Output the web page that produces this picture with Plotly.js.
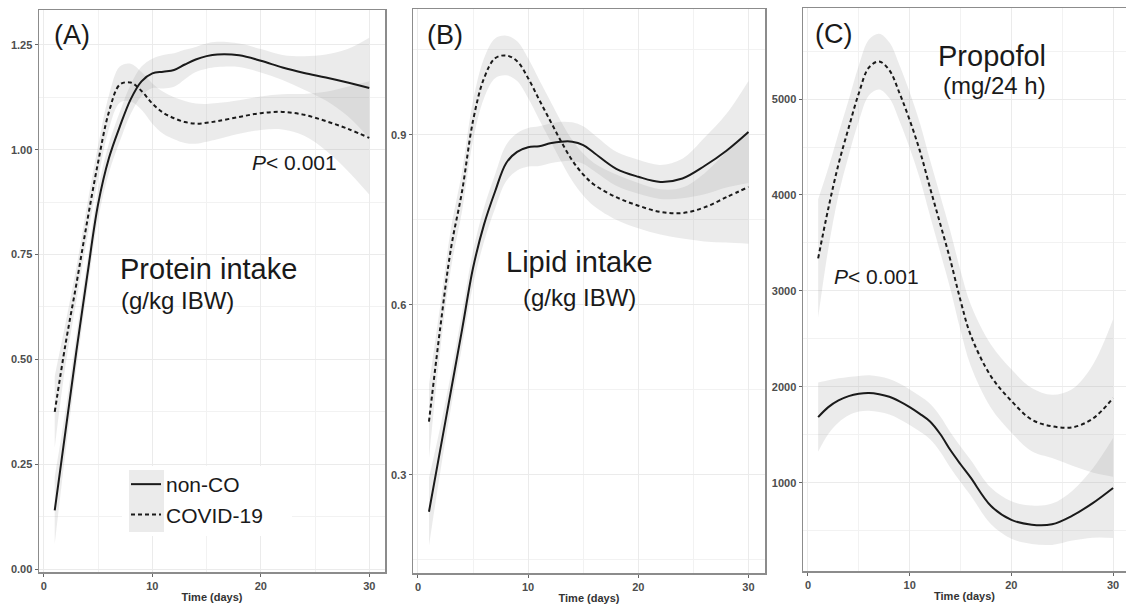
<!DOCTYPE html>
<html>
<head>
<meta charset="utf-8">
<script src="https://cdn.plot.ly/plotly-3.0.1.min.js"></script>
<style>html,body{margin:0;padding:0;background:#fff;}#chart{width:1126px;height:612px;}</style>
</head>
<body>
<div id="chart"></div>
<script>
// ---- data ----
const days = [1,2,3,4,5,6,7,8,9,10,11,12,13,14,15,16,18,20,22,24,26,28,30];

const proteinNonCO   = [0.14,0.33,0.52,0.70,0.87,0.98,1.055,1.12,1.163,1.182,1.186,1.19,1.203,1.215,1.223,1.227,1.225,1.212,1.196,1.183,1.172,1.16,1.147];
const proteinNonCOse = [0.08,0.05,0.04,0.035,0.035,0.035,0.035,0.035,0.035,0.035,0.04,0.04,0.035,0.03,0.03,0.03,0.028,0.028,0.03,0.04,0.055,0.08,0.12];
const proteinCovid   = [0.375,0.537,0.68,0.83,0.97,1.09,1.155,1.16,1.14,1.11,1.088,1.075,1.066,1.062,1.064,1.068,1.078,1.087,1.09,1.083,1.068,1.05,1.028];
const proteinCovidSe = [0.085,0.05,0.04,0.04,0.04,0.04,0.043,0.045,0.045,0.048,0.05,0.05,0.05,0.048,0.045,0.043,0.04,0.04,0.042,0.05,0.07,0.1,0.135];

const lipidNonCO   = [0.235,0.342,0.449,0.556,0.665,0.742,0.80,0.85,0.87,0.878,0.88,0.885,0.888,0.888,0.882,0.868,0.84,0.826,0.817,0.823,0.845,0.872,0.905];
const lipidNonCOse = [0.06,0.04,0.03,0.03,0.03,0.03,0.03,0.032,0.033,0.034,0.035,0.035,0.035,0.034,0.033,0.032,0.03,0.03,0.03,0.035,0.05,0.065,0.09];
const lipidCovid   = [0.394,0.556,0.70,0.80,0.925,1.0,1.035,1.04,1.03,1.0,0.962,0.925,0.888,0.855,0.83,0.812,0.79,0.775,0.764,0.762,0.772,0.79,0.808];
const lipidCovidSe = [0.065,0.04,0.035,0.035,0.035,0.035,0.035,0.035,0.035,0.035,0.035,0.035,0.035,0.036,0.037,0.038,0.04,0.04,0.04,0.045,0.06,0.08,0.10];

const propofolNonCO   = [1686,1790,1860,1905,1930,1938,1925,1898,1850,1790,1720,1640,1510,1343,1195,1055,760,615,565,570,660,790,948];
const propofolNonCOse = [360,280,230,200,185,185,185,185,185,185,185,185,185,185,185,185,190,195,200,215,260,360,520];
const propofolCovid   = [3340,3860,4320,4700,5060,5330,5390,5300,5062,4780,4460,4075,3700,3322,2900,2540,2110,1855,1660,1590,1580,1670,1885];
const propofolCovidSe = [615,420,320,290,290,290,290,290,290,290,290,290,295,300,310,320,330,330,330,330,400,560,820];

const groupNames = ["non-CO", "COVID-19"];
const xTitle = "Time (days)";

// ---- helpers ----
const W = 1126, H = 612;
const px = x => x / W;
const py = y => 1 - y / H;
const RIBBON = "rgba(153,153,153,0.2)";
const LINE = "#1a1a1a";

function ribbon(fit, se, xa, ya) {
  const lo = fit.map((v, i) => v - se[i]);
  const hi = fit.map((v, i) => v + se[i]);
  return [
    {x: days, y: lo, xaxis: xa, yaxis: ya, type: "scatter", mode: "lines",
     line: {width: 0, shape: "spline"}, showlegend: false, hoverinfo: "skip"},
    {x: days, y: hi, xaxis: xa, yaxis: ya, type: "scatter", mode: "lines",
     line: {width: 0, shape: "spline"}, fill: "tonexty", fillcolor: RIBBON,
     showlegend: false, hoverinfo: "skip"}
  ];
}
function curve(fit, xa, ya, dashed, name, legend) {
  return {x: days, y: fit, xaxis: xa, yaxis: ya, type: "scatter", mode: "lines",
    name: name, showlegend: legend,
    line: {color: LINE, width: 2, shape: "spline", dash: dashed ? "4px,3px" : "solid"}};
}

const panels = [
  {xa: "x",  ya: "y",  a: proteinNonCO,  as: proteinNonCOse,  b: proteinCovid,  bs: proteinCovidSe},
  {xa: "x2", ya: "y2", a: lipidNonCO,    as: lipidNonCOse,    b: lipidCovid,    bs: lipidCovidSe},
  {xa: "x3", ya: "y3", a: propofolNonCO, as: propofolNonCOse, b: propofolCovid, bs: propofolCovidSe}
];
const traces = [];
panels.forEach((p, k) => {
  traces.push(...ribbon(p.a, p.as, p.xa, p.ya));
  traces.push(...ribbon(p.b, p.bs, p.xa, p.ya));
});
panels.forEach((p, k) => {
  traces.push(curve(p.a, p.xa, p.ya, false, groupNames[0], k === 0));
  traces.push(curve(p.b, p.xa, p.ya, true, groupNames[1], k === 0));
});

const tickFont = {family: "Liberation Sans, Arial, sans-serif", size: 11, color: "#4d4d4d", weight: "bold"};
const titleFont = {family: "Liberation Sans, Arial, sans-serif", size: 11, color: "#333333", weight: "bold"};
function xAxis(dom, range, anchor) {
  return {domain: dom, range: range, anchor: anchor, tick0: 0, dtick: 10,
    showgrid: true, gridcolor: "#ebebeb", gridwidth: 1, zeroline: false,
    minor: {dtick: 5, tick0: 0, showgrid: true, gridcolor: "#f2f2f2", gridwidth: 1},
    showline: true, linecolor: "#8c8c8c", linewidth: 1.5, mirror: true,
    ticks: "outside", ticklen: 3, tickcolor: "#666", tickwidth: 1,
    tickfont: tickFont, automargin: false,
    title: {text: xTitle, font: titleFont, standoff: 2}};
}
function yAxis(dom, range, anchor, dtick, minorD, fmt) {
  return {domain: dom, range: range, anchor: anchor, tick0: 0, dtick: dtick, tickformat: fmt,
    showgrid: true, gridcolor: "#ebebeb", gridwidth: 1, zeroline: false,
    minor: {dtick: minorD, tick0: 0, showgrid: true, gridcolor: "#f2f2f2", gridwidth: 1},
    showline: true, linecolor: "#8c8c8c", linewidth: 1.5, mirror: true,
    ticks: "outside", ticklen: 3, tickcolor: "#666", tickwidth: 1,
    tickfont: tickFont, automargin: false};
}

const txt = "Liberation Sans, Arial, sans-serif";
function ann(text, x, y, size) {
  return {text: text, x: px(x), y: py(y), xref: "paper", yref: "paper",
    xanchor: "left", yanchor: "middle", showarrow: false,
    font: {family: txt, size: size, color: "#1a1a1a"}};
}
function rect(x0, y0, x1, y1, color) {
  return {type: "rect", xref: "paper", yref: "paper", layer: "above",
    x0: px(x0), x1: px(x1), y0: py(y1), y1: py(y0),
    fillcolor: color, line: {width: 0}};
}

const layout = {
  width: W, height: H, margin: {l: 0, r: 0, t: 0, b: 0},
  paper_bgcolor: "#fff", plot_bgcolor: "#fff",
  xaxis:  xAxis([px(39), px(385)], [-0.45, 31.45], "y"),
  xaxis2: xAxis([px(413), px(765)], [-0.45, 31.5], "y2"),
  xaxis3: xAxis([px(803), 1], [-0.49, 31.27], "y3"),
  yaxis:  yAxis([py(572), py(10)], [-0.007, 1.333], "x", 0.25, 0.125, ".2f"),
  yaxis2: yAxis([py(573), py(9)], [0.127, 1.122], "x2", 0.3, 0.15, ".1f"),
  yaxis3: yAxis([py(571), py(8)], [83, 5948], "x3", 1000, 500, "d"),
  showlegend: true,
  legend: {x: px(126), y: py(464), xanchor: "left", yanchor: "top", traceorder: "normal",
    bgcolor: "rgba(0,0,0,0)", borderwidth: 0, tracegroupgap: 0,
    font: {family: txt, size: 21, color: "#1a1a1a"}},
  annotations: [
    ann("(A)", 52, 35, 27),
    ann("<i>P</i>&lt; 0.001", 250, 163, 21),
    ann("Protein intake", 118, 269, 29),
    ann("(g/kg IBW)", 119, 300, 24),
    ann("(B)", 425, 35, 27),
    ann("Lipid intake", 504, 262, 29),
    ann("(g/kg IBW)", 521, 297, 24),
    ann("(C)", 813, 34, 27),
    ann("Propofol", 936, 56, 29),
    ann("(mg/24 h)", 941, 86, 24),
    ann("<i>P</i>&lt; 0.001", 832, 277, 21)
  ],
  shapes: [
    rect(122, 466, 292, 536, "#ffffff"),
    rect(129, 470, 164, 532, "#ebebeb")
  ]
};

Plotly.newPlot("chart", traces, layout, {displayModeBar: false, staticPlot: true});
</script>
</body>
</html>
